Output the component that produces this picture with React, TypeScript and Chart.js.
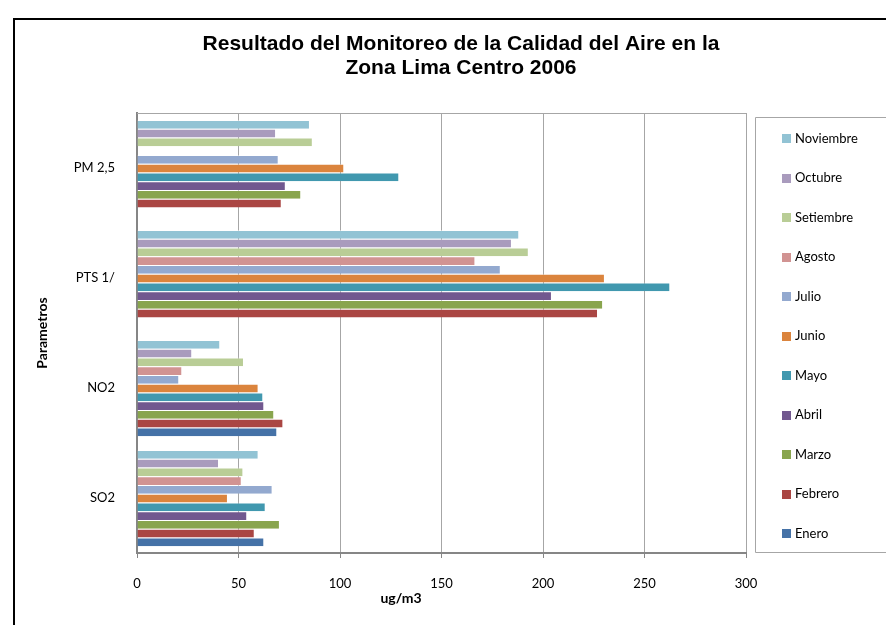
import React, { useEffect, useRef } from 'react';
import { Chart, registerables } from 'chart.js';

Chart.register(...registerables);

// Categories, top to bottom
const categories = ['PM 2,5', 'PTS 1/', 'NO2', 'SO2'];
// Series (ug/m3) in category order [PM 2,5, PTS 1/, NO2, SO2]
const enero = [null, null, 69.1, 62.7];
const febrero = [71.3, 227.1, 72.1, 58.0];
const marzo = [80.9, 229.6, 67.6, 70.4];
const abril = [73.3, 204.4, 62.7, 54.3];
const mayo = [129.2, 262.7, 62.2, 63.4];
const junio = [102.1, 230.5, 59.9, 44.8];
const julio = [69.8, 179.2, 20.8, 66.8];
const agosto = [null, 166.7, 22.3, 51.6];
const setiembre = [86.6, 193.0, 52.7, 52.4];
const octubre = [68.5, 184.7, 27.2, 40.4];
const noviembre = [85.2, 188.3, 41.0, 59.9];

const xTicks = [0, 50, 100, 150, 200, 250, 300];

const seriesNames = ['Noviembre', 'Octubre', 'Setiembre', 'Agosto', 'Julio', 'Junio', 'Mayo', 'Abril', 'Marzo', 'Febrero', 'Enero'];
const seriesValues = [noviembre, octubre, setiembre, agosto, julio, junio, mayo, abril, marzo, febrero, enero];
const seriesColors = ['#92C3D4', '#A99BBD', '#B9CD96', '#D19392', '#93A9CF', '#DB843D', '#4198AF', '#71588F', '#89A54E', '#AA4643', '#4572A7'];

const titleLines = ['Resultado del Monitoreo de la Calidad del Aire en la', 'Zona Lima Centro 2006'];
const xTitle = 'ug/m3';
const yTitle = 'Parametros';

const FONT = 'Lato, "Open Sans", sans-serif';

const decorPlugin = {
  id: 'decor',
  afterDraw(chart: any) {
    const ctx = chart.ctx as CanvasRenderingContext2D;
    const area = chart.chartArea;
    ctx.save();
    // outer frame
    ctx.strokeStyle = '#000';
    ctx.lineWidth = 2;
    ctx.beginPath();
    ctx.moveTo(14, 640);
    ctx.lineTo(14, 19);
    ctx.lineTo(900, 19);
    ctx.stroke();
    // plot top border
    ctx.strokeStyle = '#A6A6A6';
    ctx.lineWidth = 1;
    ctx.beginPath();
    ctx.moveTo(area.left, Math.round(area.top) + 0.5);
    ctx.lineTo(area.right, Math.round(area.top) + 0.5);
    ctx.stroke();
    // title
    ctx.fillStyle = '#000';
    ctx.font = 'bold 21px "Liberation Sans", Arial, sans-serif';
    ctx.textAlign = 'center';
    ctx.textBaseline = 'middle';
    ctx.fillText(titleLines[0], 461, 44);
    ctx.fillText(titleLines[1], 461, 68);
    // x title
    ctx.font = 'bold 14px ' + FONT;
    ctx.fillText(xTitle, 401, 598);
    // legend box
    ctx.strokeStyle = '#A6A6A6';
    ctx.lineWidth = 1;
    ctx.beginPath();
    ctx.moveTo(900, 117.5);
    ctx.lineTo(755.5, 117.5);
    ctx.lineTo(755.5, 552.5);
    ctx.lineTo(900, 552.5);
    ctx.stroke();
    ctx.font = '13px ' + FONT;
    ctx.textAlign = 'left';
    chart.data.datasets.forEach((ds: any, i: number) => {
      const y = 138.5 + i * 39.5;
      ctx.fillStyle = ds.backgroundColor;
      ctx.fillRect(782, Math.round(y - 4.5), 9, 9);
      ctx.fillStyle = '#000';
      ctx.fillText(ds.label, 795, y);
    });
    ctx.restore();
  },
};

export default function App() {
  const ref = useRef<HTMLCanvasElement | null>(null);
  useEffect(() => {
    document.body.style.margin = '0';
    const canvas = ref.current;
    if (!canvas) return;
    const chart = new Chart(canvas, {
      type: 'bar',
      data: {
        labels: categories,
        datasets: seriesNames.map((name, i) => ({
          label: name,
          data: seriesValues[i],
          backgroundColor: seriesColors[i],
          borderColor: 'rgba(255,255,255,0.45)',
          borderWidth: { top: 1, bottom: 0, left: 0, right: 1 },
          categoryPercentage: 0.875,
          barPercentage: 1,
        })),
      },
      options: {
        indexAxis: 'y',
        animation: false,
        responsive: true,
        maintainAspectRatio: false,
        layout: { padding: { top: 113, right: 140, left: 0, bottom: 0 } },
        plugins: {
          legend: { display: false },
          title: { display: false },
          tooltip: { enabled: false },
        },
        scales: {
          x: {
            min: 0,
            max: 300,
            afterFit: (s: any) => { s.height = 72; },
            afterBuildTicks: (s: any) => { s.ticks = xTicks.map((v) => ({ value: v })); },
            grid: { color: '#A6A6A6', lineWidth: 1, drawTicks: true, tickLength: 5, tickColor: '#868686' },
            border: { color: '#868686', width: 2 },
            ticks: { color: '#000', font: { family: FONT, size: 13 }, padding: 18, maxRotation: 0 },
          },
          y: {
            afterFit: (s: any) => { s.width = 137; },
            grid: { display: false, drawTicks: false },
            border: { color: '#868686', width: 2 },
            ticks: { color: '#000', font: { family: FONT, size: 13 }, padding: 22 },
            title: {
              display: true,
              text: yTitle,
              color: '#000',
              font: { family: FONT, size: 14, weight: 'bold' },
              padding: { top: 34, bottom: 0 },
            },
          },
        },
      },
      plugins: [decorPlugin],
    } as any);
    return () => chart.destroy();
  }, []);
  return (
    <div style={{ position: 'relative', width: 886, height: 625 }}>
      <canvas ref={ref} style={{ display: 'block' }} />
    </div>
  );
}
